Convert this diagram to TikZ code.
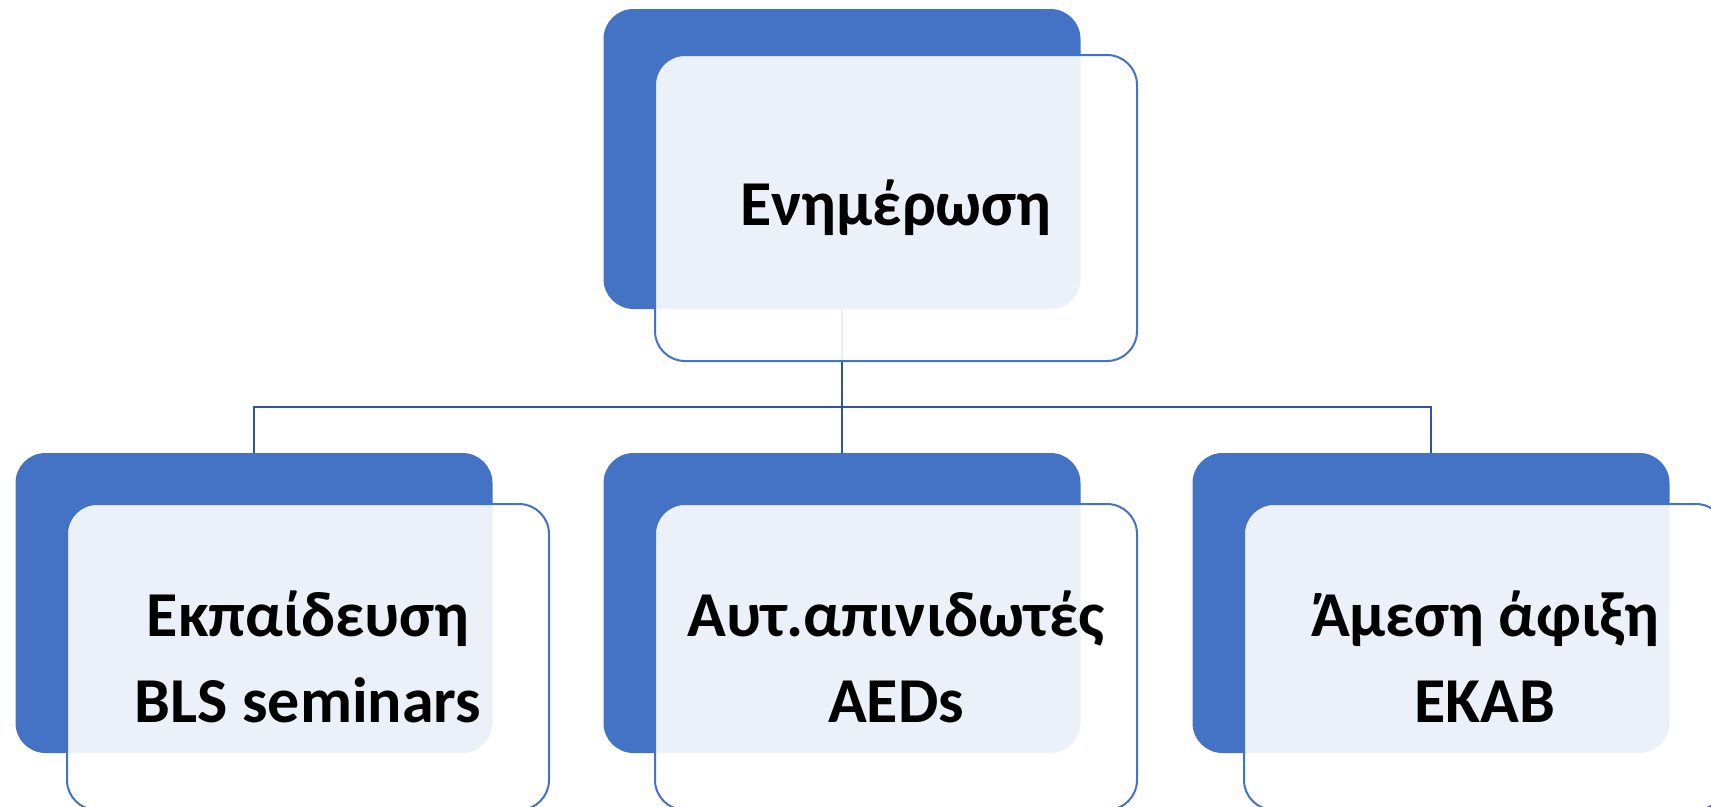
\documentclass[tikz,border=0pt]{standalone}
\usepackage{fontspec}
\setmainfont{Carlito}
\definecolor{boxblue}{RGB}{68,114,196}
\definecolor{linkblue}{RGB}{47,85,151}
\tikzset{
  backbox/.style={fill=boxblue, draw=none, rounded corners=30pt, minimum width=477pt, minimum height=300pt, inner sep=0pt},
  frontbox/.style={fill=white, fill opacity=0.9, text opacity=1, draw=boxblue, line width=2pt, rounded corners=30pt, minimum width=482pt, minimum height=306pt, inner sep=0pt, align=center, font=\fontsize{64}{86}\selectfont\bfseries},
  link/.style={draw=linkblue, line width=2.5pt}
}
\begin{document}
\begin{tikzpicture}[x=1pt,y=-1pt]
\useasboundingbox (0,0) rectangle (1711,806);
\clip (0,0) rectangle (1711,806);
\node[backbox] (tb) at (842,159) {};
\node[backbox] (b1) at (254,603) {};
\node[backbox] (b2) at (842,603) {};
\node[backbox] (b3) at (1431,603) {};
\coordinate (j) at (842,407);
\draw[link] (tb.south) -- (b2.north);
\draw[link] (b1.north) -- (b1.north |- j) -- (b3.north |- j) -- (b3.north);
\node[frontbox] (tf) at (896,208) {Ενημέρωση};
\node[frontbox] (f1) at (308,657) {Εκπαίδευση\\BLS seminars};
\node[frontbox] (f2) at (896,657) {Αυτ.απινιδωτές\\AEDs};
\node[frontbox] (f3) at (1485,657) {Άμεση άφιξη\\EKAB};
\end{tikzpicture}
\end{document}
